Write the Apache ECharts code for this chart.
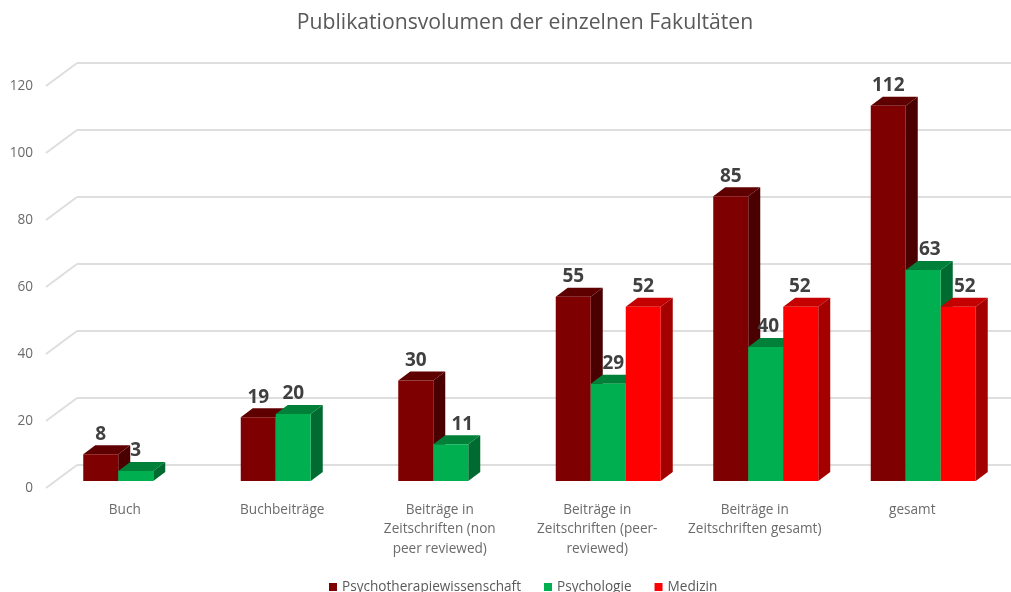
<!DOCTYPE html>
<html>
<head>
<meta charset="utf-8">
<title>Publikationsvolumen</title>
<script src="https://cdn.jsdelivr.net/npm/echarts@6/dist/echarts.min.js"></script>
<style>
  html, body { margin: 0; padding: 0; background: #fff; }
  #chart { width: 1011px; height: 592px; }
</style>
</head>
<body>
<div id="chart"></div>
<script>
const categories = [
  'Buch',
  'Buchbeiträge',
  'Beiträge in\nZeitschriften (non\npeer reviewed)',
  'Beiträge in\nZeitschriften (peer-\nreviewed)',
  'Beiträge in\nZeitschriften gesamt)',
  'gesamt'
]
const psychotherapie = [8, 19, 30, 55, 85, 112]
const psychologie = [3, 20, 11, 29, 40, 63]
const medizin = [null, null, null, 52, 52, 52]
const yTicks = [0, 20, 40, 60, 80, 100, 120]

const font = '"Open Sans", sans-serif'
const textColor = '#6b6b6b'
// Tiefe der 3D-Saeulen in Pixel
const depthX = 12
const depthY = 9
// Wertelabels sind im Original teils von Hand verschoben
const labelShiftGreen = [0, 0, 11.5, 5, 2.5, 6.5]
const labelShiftRed = [0, 0, 0, 0, -1, 6.5]

// Saeule mit Front, Dach, Seite und Wertelabel
const barRenderer = (slot, colors, labelShift) => (params, api) => {
  const idx = api.value(0)
  const val = api.value(1)
  const w = api.size([1, 0])[0] / 4.5
  const base = api.coord([idx, 0])
  const top = api.coord([idx, val])
  const x0 = base[0] + (slot - 1.5) * w
  const x1 = x0 + w
  const y0 = top[1]
  const y1 = base[1]
  return {
    type: 'group',
    children: [
      {
        type: 'polygon',
        shape: { points: [[x1, y0], [x1 + depthX, y0 - depthY], [x1 + depthX, y1 - depthY], [x1, y1]] },
        style: { fill: colors.side }
      },
      {
        type: 'polygon',
        shape: { points: [[x0, y0], [x0 + depthX, y0 - depthY], [x1 + depthX, y0 - depthY], [x1, y0]] },
        style: { fill: colors.top }
      },
      {
        type: 'rect',
        shape: { x: x0, y: y0, width: w, height: y1 - y0 },
        style: { fill: colors.front }
      },
      {
        type: 'text',
        z2: 100,
        style: {
          text: String(val),
          x: x0 + w / 2 + (labelShift ? labelShift[idx] : 0),
          y: y0 - 20,
          align: 'center',
          verticalAlign: 'middle',
          font: 'bold 19px ' + font,
          fill: '#404040'
        }
      }
    ]
  }
}

const toPairs = values => values.map((v, i) => [i, v]).filter(p => p[1] !== null)

const makeBarSeries = (name, values, slot, colors, labelShift) => ({
  name,
  type: 'custom',
  xAxisIndex: 0,
  yAxisIndex: 0,
  itemStyle: { color: colors.front },
  renderItem: barRenderer(slot, colors, labelShift),
  data: toPairs(values),
  silent: true
})

const chart = echarts.init(document.getElementById('chart'))
const option = {
  animation: false,
  backgroundColor: '#fff',
  title: {
    text: 'Publikationsvolumen der einzelnen Fakultäten',
    left: 520,
    top: 7,
    textAlign: 'center',
    textStyle: { fontFamily: font, fontSize: 21.2, fontWeight: 'normal', color: '#595959' }
  },
  legend: {
    data: ['Psychotherapiewissenschaft', 'Psychologie', 'Medizin'],
    left: 324,
    top: 575,
    icon: 'rect',
    itemWidth: 8,
    itemHeight: 8,
    itemGap: 23,
    textStyle: { fontFamily: font, fontSize: 13.6, color: '#595959' }
  },
  grid: [
    // Saeulenebene
    { left: 57, right: 9, top: 79, bottom: 111 },
    // Rueckwand mit den Gitterlinien
    { left: 77, right: 0, top: 63, bottom: 127 },
    // Vorderkante mit den Achsenbeschriftungen
    { left: 46, right: 20, top: 86, bottom: 104 }
  ],
  xAxis: [
    { gridIndex: 0, type: 'category', data: categories, show: false },
    { gridIndex: 1, type: 'category', data: categories, show: false },
    {
      gridIndex: 2,
      type: 'category',
      data: categories,
      axisLine: { show: false },
      axisTick: { show: false },
      axisLabel: { margin: 12, fontFamily: font, fontSize: 13.6, lineHeight: 19.5, color: textColor, interval: 0 }
    }
  ],
  yAxis: [
    { gridIndex: 0, type: 'value', min: 0, max: 120, interval: 20, show: false },
    {
      gridIndex: 1,
      type: 'value',
      min: 0,
      max: 120,
      interval: 20,
      axisLine: { show: false },
      axisTick: { show: false },
      axisLabel: { show: false },
      splitLine: { lineStyle: { color: '#dedede', width: 2 } }
    },
    {
      gridIndex: 2,
      type: 'value',
      min: 0,
      max: 120,
      interval: 20,
      axisLine: { show: false },
      axisTick: { show: false },
      splitLine: { show: false },
      axisLabel: { margin: 13, fontFamily: font, fontSize: 13.6, color: textColor }
    }
  ],
  series: [
    // schraege Linien vom Boden zur Rueckwand
    {
      type: 'custom',
      xAxisIndex: 2,
      yAxisIndex: 2,
      silent: true,
      data: yTicks.map(t => [0, t]),
      renderItem: (params, api) => {
        const y = api.coord([0, api.value(1)])[1]
        const x = params.coordSys.x
        return {
          type: 'line',
          shape: { x1: x, y1: y, x2: x + 31, y2: y - 23 },
          style: { stroke: '#dedede', lineWidth: 2 }
        }
      }
    },
    makeBarSeries('Psychotherapiewissenschaft', psychotherapie, 0, { front: '#7f0000', top: '#5e0000', side: '#4a0000' }),
    makeBarSeries('Psychologie', psychologie, 1, { front: '#00b050', top: '#008038', side: '#006b30' }, labelShiftGreen),
    makeBarSeries('Medizin', medizin, 2, { front: '#ff0000', top: '#c40000', side: '#a50000' }, labelShiftRed)
  ]
}
chart.setOption(option)
</script>
</body>
</html>
